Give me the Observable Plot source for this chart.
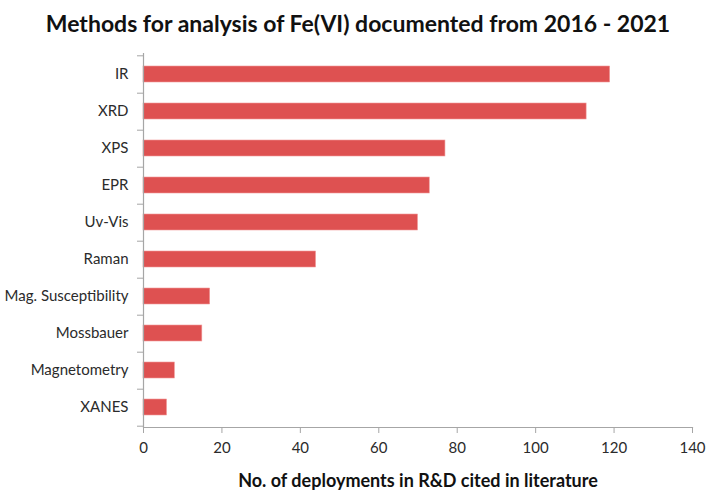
<!DOCTYPE html>
<html>
<head>
<meta charset="utf-8">
<script src="https://cdn.jsdelivr.net/npm/d3@7"></script>
<script src="https://cdn.jsdelivr.net/npm/@observablehq/plot@0.6"></script>
<style>
  html, body { margin: 0; padding: 0; background: #fff; }
  #chart svg { display: block; }
</style>
</head>
<body>
<div id="chart"></div>
<script>
const methods = ["IR", "XRD", "XPS", "EPR", "Uv-Vis", "Raman", "Mag. Susceptibility", "Mossbauer", "Magnetometry", "XANES"];
const counts = [119, 113, 77, 73, 70, 44, 17, 15, 8, 6];
const xTicks = [0, 20, 40, 60, 80, 100, 120, 140];
const titleText = "Methods for analysis of Fe(VI) documented from 2016 - 2021";
const xLabel = "No. of deployments in R&D cited in literature";

const data = methods.map((m, i) => ({method: m, count: counts[i]}));
const font = "Lato, 'Open Sans', sans-serif";
const step = 37.4;

const chart = Plot.plot({
  width: 710,
  height: 493,
  marginTop: 53,
  marginBottom: 66,
  marginLeft: 143,
  marginRight: 18,
  style: {fontFamily: font, fontSize: "15px", color: "#333", background: "#fff"},
  x: {domain: [0, 140], axis: null},
  y: {domain: methods, paddingInner: 0.58, paddingOuter: 0.29, axis: null},
  marks: [
    Plot.barX(data, {y: "method", x: "count", fill: "#de5151", stroke: "#f09a9a", strokeWidth: 0.6}),
    // axis lines
    Plot.ruleX([0], {stroke: "#a6a6a6", strokeWidth: 1.2}),
    Plot.frame({anchor: "bottom", stroke: "#a6a6a6", strokeWidth: 1.2}),
    // x axis
    Plot.axisX({ticks: xTicks, tickSize: 6, tickPadding: 9, stroke: "#a6a6a6", fill: "#2b2b2b", fontSize: 15, label: null}),
    // y axis labels
    Plot.axisY({tickSize: 0, tickPadding: 15, fill: "#2b2b2b", fontSize: 15, label: null}),
    // y axis ticks between categories (Excel style)
    Plot.axisY({tickSize: 6, tickFormat: () => "", dy: step / 2, stroke: "#a6a6a6", label: null}),
    Plot.axisY({ticks: [methods[0]], tickSize: 6, tickFormat: () => "", dy: -step / 2, stroke: "#a6a6a6", label: null}),
    // title
    Plot.text([titleText], {frameAnchor: "top", text: d => d, dy: -38, dx: -60, fontSize: 23, fontWeight: "bold", fill: "#111"}),
    // x label
    Plot.text([xLabel], {frameAnchor: "bottom", text: d => d, dy: 59, fontSize: 18, fontWeight: "bold", fill: "#111"})
  ]
});
document.getElementById("chart").appendChild(chart);
</script>
</body>
</html>
